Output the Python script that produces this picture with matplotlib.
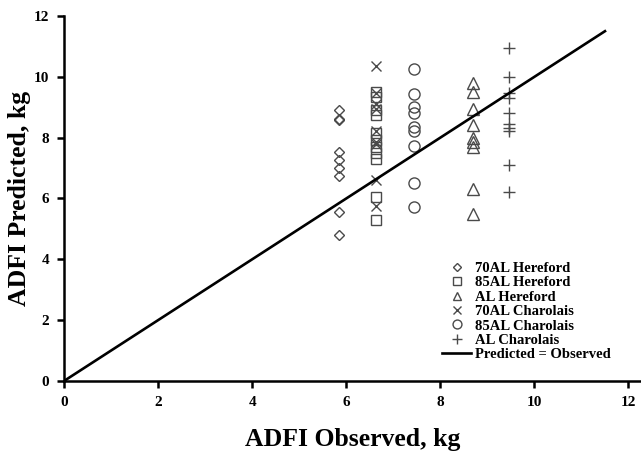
import matplotlib
matplotlib.use("Agg")
import matplotlib.pyplot as plt

# observed ADFI per group (kg) and predicted values
hereford70_x = 5.85
hereford70_y = [8.9, 8.62, 8.58, 7.52, 7.25, 7.0, 6.75, 5.55, 4.8]
hereford85_x = 6.62
hereford85_y = [9.5, 9.33, 8.9, 8.74, 8.14, 7.91, 7.68, 7.48, 7.29, 6.03, 5.28]
herefordAL_x = 8.69
herefordAL_y = [9.8, 9.5, 8.95, 8.4, 8.0, 7.85, 7.68, 6.3, 5.5]
charolais70_x = 6.62
charolais70_y = [10.35, 9.45, 9.1, 8.95, 8.2, 7.85, 7.8, 6.6, 5.75]
charolais85_x = 7.43
charolais85_y = [10.25, 9.42, 9.0, 8.8, 8.35, 8.2, 7.72, 6.52, 5.7]
charolaisAL_x = 9.45
charolaisAL_y = [10.95, 10.0, 9.45, 9.3, 8.8, 8.45, 8.3, 8.2, 7.1, 6.2]

line_x = [0, 11.5]
line_y = [0, 11.5]

plt.rcParams['font.family'] = ['Liberation Serif', 'DejaVu Serif']
plt.rcParams['font.weight'] = 'bold'

fig = plt.figure(figsize=(6.41, 4.54), dpi=100)
ax = fig.add_axes([0.1006, 0.1615, 0.9004, 0.8033])

groups = [
    (hereford70_x, hereford70_y, 'D', 5.5, '70AL Hereford'),
    (hereford85_x, hereford85_y, 's', 7, '85AL Hereford'),
    (herefordAL_x, herefordAL_y, '^', 8, 'AL Hereford'),
    (charolais70_x, charolais70_y, 'x', 7, '70AL Charolais'),
    (charolais85_x, charolais85_y, 'o', 8, '85AL Charolais'),
    (charolaisAL_x, charolaisAL_y, '+', 9, 'AL Charolais'),
]
edge = '#4a4a4a'
for gx, gy, mk, ms, lab in groups:
    if mk in ('x', '+'):
        ax.plot([gx] * len(gy), gy, linestyle='none', marker=mk, markersize=ms,
                color=edge, markeredgewidth=1.0, label=lab)
    else:
        ax.plot([gx] * len(gy), gy, linestyle='none', marker=mk, markersize=ms,
                markerfacecolor='none', markeredgecolor=edge, markeredgewidth=1.0,
                label=lab)

ax.plot(line_x, line_y, color='black', linewidth=1.9, label='Predicted = Observed')

ax.set_xlim(0, 12.28)
ax.set_ylim(0, 12)
ax.set_xticks([0, 2, 4, 6, 8, 10, 12])
ax.set_yticks([0, 2, 4, 6, 8, 10, 12])
for s in ('top', 'right'):
    ax.spines[s].set_visible(False)
for s in ('left', 'bottom'):
    ax.spines[s].set_linewidth(1.8)
ax.tick_params(direction='out', length=5, width=1.8, labelsize=11, pad=6)
for t in ax.get_xticklabels() + ax.get_yticklabels():
    t.set_fontweight('bold')
ax.set_xlabel('ADFI Observed, kg', fontsize=18.5, fontweight='bold', labelpad=14)
ax.set_ylabel('ADFI Predicted, kg', fontsize=18.5, fontweight='bold', labelpad=2)

leg = ax.legend(loc='lower right', bbox_to_anchor=(0.965, 0.025), frameon=False,
                fontsize=10.5, handlelength=2.0, handletextpad=0.3, labelspacing=0.08,
                borderpad=0.2, markerscale=0.8)
for t in leg.get_texts():
    t.set_fontweight('bold')

fig.savefig('out.png', dpi=100)
